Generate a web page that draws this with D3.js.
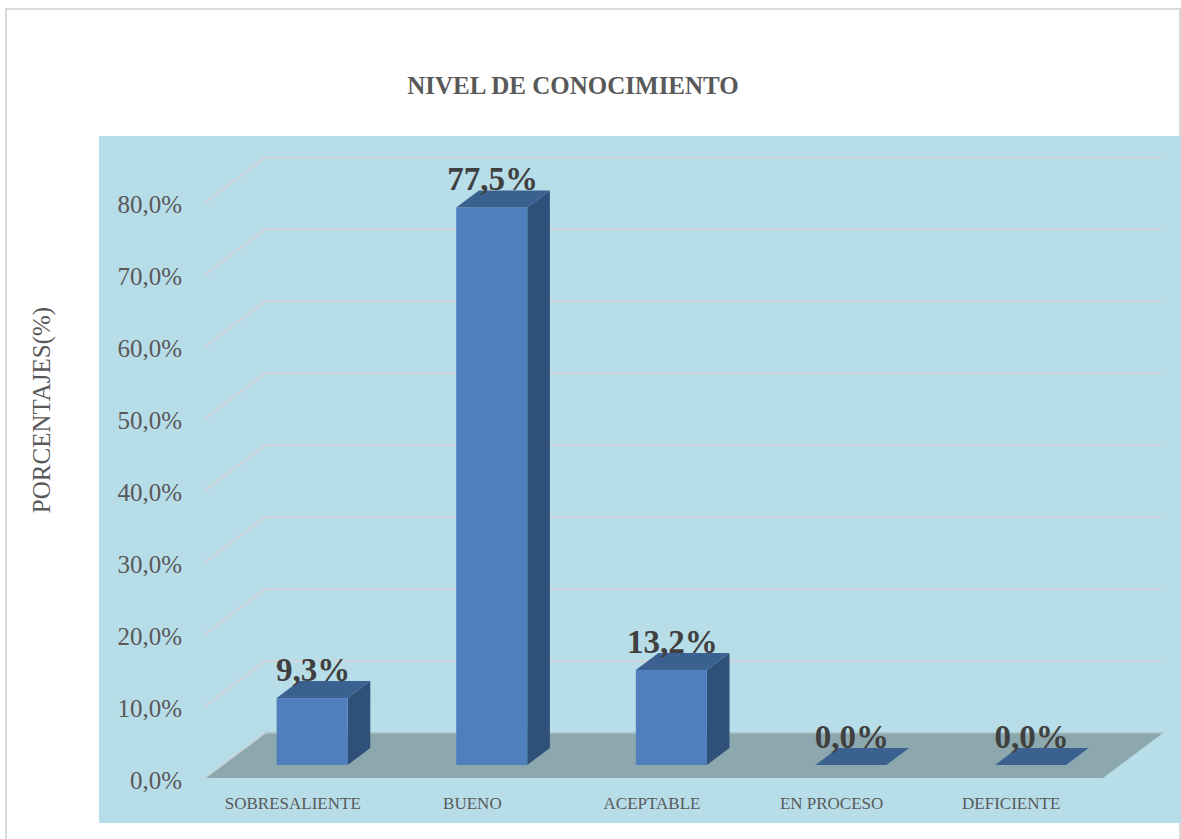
<!DOCTYPE html>
<html>
<head>
<meta charset="utf-8">
<script src="https://cdn.jsdelivr.net/npm/d3@7"></script>
<style>
  html, body { margin: 0; padding: 0; background: #ffffff; }
  svg { display: block; }
</style>
</head>
<body>
<svg id="chart" width="1181" height="839"></svg>
<script>
// ---- data ----
const title = "NIVEL DE CONOCIMIENTO";
const yAxisTitle = "PORCENTAJES(%)";
const categories = ["SOBRESALIENTE", "BUENO", "ACEPTABLE", "EN PROCESO", "DEFICIENTE"];
const values = [9.3, 77.5, 13.2, 0.0, 0.0];
const valueLabels = ["9,3%", "77,5%", "13,2%", "0,0%", "0,0%"];
const yTicks = [0, 10, 20, 30, 40, 50, 60, 70, 80];
const yTickLabels = ["0,0%", "10,0%", "20,0%", "30,0%", "40,0%", "50,0%", "60,0%", "70,0%", "80,0%"];

// ---- layout ----
const W = 1181, H = 839;
const svg = d3.select("#chart");
const depthX = 60, depthY = 45;        // full floor depth vector
const barD0 = 13 / 45, barD1 = 30 / 45; // bar depth slab (fraction of floor depth)
const barW = 71;

const x = d3.scaleBand().domain(categories).range([205, 1103]).padding(0);
const y = d3.scaleLinear().domain([0, 80]).range([778, 202.5]);
const proj = (px, py, d) => [px + d * depthX, py - d * depthY];

// outer frame
svg.append("rect").attr("x", 6).attr("y", 9).attr("width", 1174).attr("height", 840)
  .attr("fill", "#ffffff").attr("stroke", "#d9d9d9").attr("stroke-width", 2);

// plot area background
svg.append("rect").attr("x", 99).attr("y", 136).attr("width", 1082).attr("height", 687)
  .attr("fill", "#b7dde8");

// title
svg.append("text").attr("x", 573).attr("y", 94).attr("text-anchor", "middle")
  .attr("font-family", "'Liberation Serif', serif").attr("font-weight", "bold")
  .attr("font-size", 25).attr("fill", "#595959").text(title);

// y-axis title
svg.append("text").attr("transform", "translate(41,410) rotate(-90)")
  .attr("text-anchor", "middle").attr("dominant-baseline", "central")
  .attr("font-family", "'Liberation Serif', serif").attr("font-size", 25)
  .attr("fill", "#595959").text(yAxisTitle);

// floor
const x0 = x.range()[0], x1 = x.range()[1];
const floorPts = [proj(x0, y(0), 0), proj(x0, y(0), 1), proj(x1, y(0), 1), proj(x1, y(0), 0)];
svg.append("polygon").attr("points", floorPts.map(p => p.join(",")).join(" "))
  .attr("fill", "#8ca8ae");
svg.append("line")
  .attr("x1", floorPts[1][0]).attr("y1", floorPts[1][1])
  .attr("x2", floorPts[2][0]).attr("y2", floorPts[2][1])
  .attr("stroke", "#a9c0c5").attr("stroke-width", 1.5);
svg.append("line")
  .attr("x1", floorPts[0][0]).attr("y1", floorPts[0][1])
  .attr("x2", floorPts[1][0]).attr("y2", floorPts[1][1])
  .attr("stroke", "#c9d3d6").attr("stroke-width", 1.5);

// gridlines (side wall diagonal + back wall)
const grid = svg.append("g");
yTicks.filter(v => v > 0).forEach(v => {
  const a = proj(x0, y(v), 0), b = proj(x0, y(v), 1), c = proj(x1 - 2, y(v), 1);
  grid.append("path").attr("d", `M${a[0]},${a[1]}L${b[0]},${b[1]}L${c[0]},${c[1]}`)
    .attr("fill", "none").attr("stroke", "#cdd6da").attr("stroke-width", 2.2);
});

// y tick labels
svg.append("g").selectAll("text").data(yTicks).join("text")
  .attr("x", 182).attr("y", d => y(d) + 2)
  .attr("text-anchor", "end").attr("dominant-baseline", "central")
  .attr("font-family", "'Liberation Serif', serif").attr("font-size", 25)
  .attr("fill", "#595959").text((d, i) => yTickLabels[i]);

// x labels
svg.append("g").selectAll("text").data(categories).join("text")
  .attr("x", d => x(d) + x.bandwidth() / 2 - 2).attr("y", 809)
  .attr("text-anchor", "middle")
  .attr("font-family", "'Liberation Serif', serif").attr("font-size", 17)
  .attr("fill", "#595959").text(d => d);

// bars
const ddx = (barD1 - barD0) * depthX, ddy = (barD1 - barD0) * depthY;
const base = y(0) - barD0 * depthY;
const bars = svg.append("g");
categories.forEach((c, i) => {
  const v = values[i];
  const cx = x(c) + x.bandwidth() / 2 + barD0 * depthX;
  const bx = cx - barW / 2;
  const h = y(0) - y(v);
  const top = base - h;
  const topPts = [[bx, top], [bx + ddx, top - ddy], [bx + barW + ddx, top - ddy], [bx + barW, top]];
  if (h > 0) {
    const sidePts = [[bx + barW, top], [bx + barW + ddx, top - ddy], [bx + barW + ddx, base - ddy], [bx + barW, base]];
    bars.append("polygon").attr("points", sidePts.map(p => p.join(",")).join(" "))
      .attr("fill", "#2f5079");
    bars.append("rect").attr("x", bx).attr("y", top).attr("width", barW).attr("height", h)
      .attr("fill", "#4f80bd");
  }
  bars.append("polygon").attr("points", topPts.map(p => p.join(",")).join(" "))
    .attr("fill", "#3a6190");
  bars.append("text").attr("x", cx + 1).attr("y", top - ddy)
    .attr("text-anchor", "middle")
    .attr("font-family", "'Liberation Serif', serif").attr("font-weight", "bold")
    .attr("font-size", 33).attr("fill", "#404040").text(valueLabels[i]);
});
</script>
</body>
</html>
